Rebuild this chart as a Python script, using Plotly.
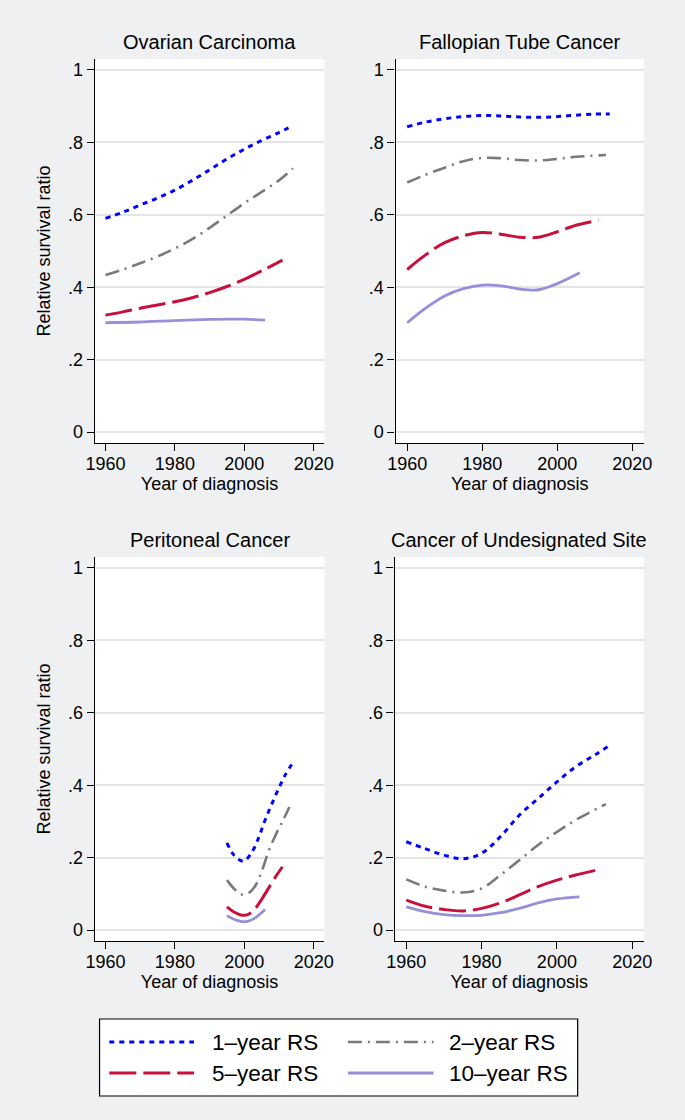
import plotly.graph_objects as go

# ---------------- data ----------------
panel_titles = ["Ovarian Carcinoma", "Fallopian Tube Cancer",
                "Peritoneal Cancer", "Cancer of Undesignated Site"]
series_names = ["1–year RS", "2–year RS", "5–year RS", "10–year RS"]

# Ovarian Carcinoma
ov_yr1 = [1960, 1965, 1970, 1975, 1980, 1985, 1990, 1995, 2000, 2005, 2010, 2014]
ov_rs1 = [0.590, 0.607, 0.627, 0.646, 0.668, 0.695, 0.724, 0.754, 0.781, 0.805, 0.827, 0.846]
ov_yr2 = [1960, 1965, 1970, 1975, 1980, 1985, 1990, 1995, 2000, 2005, 2010, 2014]
ov_rs2 = [0.434, 0.449, 0.466, 0.485, 0.507, 0.533, 0.564, 0.598, 0.632, 0.663, 0.695, 0.728]
ov_yr5 = [1960, 1965, 1970, 1975, 1980, 1985, 1990, 1995, 2000, 2005, 2011]
ov_rs5 = [0.323, 0.332, 0.342, 0.351, 0.360, 0.371, 0.385, 0.402, 0.422, 0.445, 0.475]
ov_yr10 = [1960, 1970, 1980, 1990, 1995, 2000, 2006]
ov_rs10 = [0.302, 0.304, 0.308, 0.311, 0.312, 0.312, 0.309]

# Fallopian Tube Cancer
ft_yr1 = [1960, 1965, 1970, 1975, 1980, 1985, 1990, 1995, 2000, 2005, 2010, 2014]
ft_rs1 = [0.843, 0.856, 0.865, 0.871, 0.874, 0.873, 0.870, 0.869, 0.871, 0.875, 0.878, 0.878]
ft_yr2 = [1960, 1965, 1970, 1975, 1980, 1985, 1990, 1995, 2000, 2005, 2013]
ft_rs2 = [0.689, 0.711, 0.730, 0.748, 0.757, 0.756, 0.751, 0.750, 0.754, 0.760, 0.765]
ft_yr5 = [1960, 1965, 1970, 1975, 1980, 1985, 1990, 1995, 2000, 2005, 2011]
ft_rs5 = [0.449, 0.490, 0.523, 0.542, 0.551, 0.546, 0.538, 0.538, 0.553, 0.571, 0.585]
ft_yr10 = [1960, 1965, 1970, 1975, 1980, 1985, 1990, 1995, 2000, 2006]
ft_rs10 = [0.302, 0.343, 0.376, 0.396, 0.406, 0.404, 0.395, 0.393, 0.410, 0.440]

# Peritoneal Cancer
pc_yr1 = [1995, 1997, 1999, 2000, 2002, 2004, 2006, 2008, 2010, 2012, 2014]
pc_rs1 = [0.241, 0.207, 0.192, 0.191, 0.212, 0.252, 0.304, 0.350, 0.393, 0.432, 0.462]
pc_yr2 = [1995, 1997, 1999, 2001, 2003, 2005, 2007, 2009, 2011, 2013]
pc_rs2 = [0.138, 0.115, 0.099, 0.101, 0.120, 0.162, 0.218, 0.262, 0.300, 0.340]
pc_yr5 = [1995, 1997, 1999, 2001, 2003, 2005, 2007, 2009, 2011]
pc_rs5 = [0.064, 0.050, 0.042, 0.043, 0.058, 0.085, 0.116, 0.147, 0.175]
pc_yr10 = [1995, 1997, 1999, 2001, 2003, 2006]
pc_rs10 = [0.040, 0.030, 0.024, 0.024, 0.033, 0.057]

# Cancer of Undesignated Site
us_yr1 = [1960, 1965, 1970, 1975, 1980, 1985, 1990, 1995, 2000, 2005, 2010, 2014]
us_rs1 = [0.244, 0.225, 0.207, 0.197, 0.212, 0.258, 0.317, 0.363, 0.409, 0.451, 0.483, 0.510]
us_yr2 = [1960, 1965, 1970, 1975, 1980, 1985, 1990, 1995, 2000, 2005, 2013]
us_rs2 = [0.140, 0.120, 0.109, 0.104, 0.115, 0.152, 0.193, 0.235, 0.271, 0.304, 0.348]
us_yr5 = [1960, 1965, 1970, 1975, 1980, 1985, 1990, 1995, 2000, 2005, 2011]
us_rs5 = [0.083, 0.066, 0.057, 0.053, 0.060, 0.075, 0.097, 0.120, 0.138, 0.152, 0.167]
us_yr10 = [1960, 1965, 1970, 1975, 1980, 1985, 1990, 1995, 2000, 2006]
us_rs10 = [0.064, 0.051, 0.043, 0.040, 0.041, 0.048, 0.060, 0.075, 0.086, 0.092]

x_tickvals = [1960, 1980, 2000, 2020]
y_tickvals = [0, 0.2, 0.4, 0.6, 0.8, 1]
y_ticktext = ["0", ".2", ".4", ".6", ".8", "1"]

panels = [
    [(ov_yr1, ov_rs1), (ov_yr2, ov_rs2), (ov_yr5, ov_rs5), (ov_yr10, ov_rs10)],
    [(ft_yr1, ft_rs1), (ft_yr2, ft_rs2), (ft_yr5, ft_rs5), (ft_yr10, ft_rs10)],
    [(pc_yr1, pc_rs1), (pc_yr2, pc_rs2), (pc_yr5, pc_rs5), (pc_yr10, pc_rs10)],
    [(us_yr1, us_rs1), (us_yr2, us_rs2), (us_yr5, us_rs5), (us_yr10, us_rs10)],
]

# ---------------- styles ----------------
W, H = 685, 1120
FONT = "Liberation Sans, Arial, Helvetica, sans-serif"
colors = ["#0000ff", "#7a7a7a", "#c8103c", "#9590d8"]
dashes = ["5px,5px", "14px,6px,2px,6px", "27px,7px", "solid"]
widths = [3, 2.6, 3, 2.8]
AX_FONT = 18

def px_x(p):
    return p / W

def px_y(p):
    return 1 - p / H

# plot-area rectangles in pixels: (left, right, top, bottom)
rects = [(88, 324, 59, 443), (397, 652, 59, 443),
         (88, 324, 557, 941), (396, 652, 557, 941)]

fig = go.Figure()

for i, (series, rect) in enumerate(zip(panels, rects)):
    n = i + 1
    xa = "x" if n == 1 else f"x{n}"
    ya = "y" if n == 1 else f"y{n}"
    for k, (xs, ys) in enumerate(series):
        fig.add_trace(go.Scatter(
            x=xs, y=ys, mode="lines", name=series_names[k],
            showlegend=False, xaxis=xa, yaxis=ya,
            line=dict(color=colors[k], dash=dashes[k], width=widths[k],
                      shape="spline", smoothing=1.0),
            hoverinfo="skip"))
    l, r, t, b = rect
    xkey = "xaxis" if n == 1 else f"xaxis{n}"
    ykey = "yaxis" if n == 1 else f"yaxis{n}"
    fig.update_layout({
        xkey: dict(domain=[px_x(l), px_x(r)], anchor=ya,
                   range=[1956.9, 2023.1], tickvals=x_tickvals,
                   ticks="outside", ticklen=7, tickwidth=1.2, tickcolor="#000",
                   ticklabelstandoff=-3,
                   showline=True, linecolor="#000", linewidth=1.2,
                   showgrid=False, zeroline=False,
                   tickfont=dict(size=AX_FONT, color="#000", family=FONT),
                   title=dict(text="Year of diagnosis", standoff=0,
                              font=dict(size=AX_FONT, color="#000", family=FONT))),
        ykey: dict(domain=[px_y(b), px_y(t)], anchor=xa,
                   range=[-0.03, 1.03], tickvals=y_tickvals, ticktext=y_ticktext,
                   ticks="outside", ticklen=7, tickwidth=1.2, tickcolor="#000",
                   showline=True, linecolor="#000", linewidth=1.2,
                   showgrid=True, gridcolor="#e4e4e4", gridwidth=1.5,
                   zeroline=False,
                   tickfont=dict(size=AX_FONT, color="#000", family=FONT),
                   title=dict(text="Relative survival ratio" if n in (1, 3) else "",
                              standoff=12,
                              font=dict(size=AX_FONT, color="#000", family=FONT))),
    })
    fig.add_annotation(text=panel_titles[i], xref="paper", yref="paper",
                       x=(px_x(l) + px_x(r)) / 2, y=px_y(t), yshift=4,
                       xanchor="center", yanchor="bottom", showarrow=False,
                       font=dict(size=20, color="#000", family=FONT))

# ---------------- legend (drawn manually) ----------------
shapes = [dict(type="rect", xref="paper", yref="paper",
               x0=px_x(93), x1=px_x(584), y0=px_y(1096), y1=px_y(1019),
               fillcolor="#ffffff", line=dict(color="#000", width=1.2), layer="below")]
legend_pos = [(103, 190, 206, 1042), (348, 436, 450, 1042),
              (103, 190, 206, 1073), (348, 436, 450, 1073)]
for k, (x0, x1, xt, yy) in enumerate(legend_pos):
    shapes.append(dict(type="line", xref="paper", yref="paper",
                       x0=px_x(x0), x1=px_x(x1), y0=px_y(yy), y1=px_y(yy),
                       line=dict(color=colors[k], dash=dashes[k], width=widths[k])))
    fig.add_annotation(text=series_names[k], xref="paper", yref="paper",
                       x=px_x(xt), y=px_y(yy), xanchor="left", yanchor="middle",
                       showarrow=False,
                       font=dict(size=22.5, color="#000", family=FONT))

fig.update_layout(
    width=W, height=H,
    margin=dict(l=0, r=0, t=0, b=0),
    paper_bgcolor="#eef0f1", plot_bgcolor="#ffffff",
    font=dict(family=FONT, color="#000"),
    shapes=shapes,
    showlegend=False,
)

fig.write_html(
    "out.html",
    config={"displayModeBar": False},
    post_script="document.body.style.margin='0px';"
                "document.body.style.overflow='hidden';"
                "document.body.style.background='#eef0f1';",
)
